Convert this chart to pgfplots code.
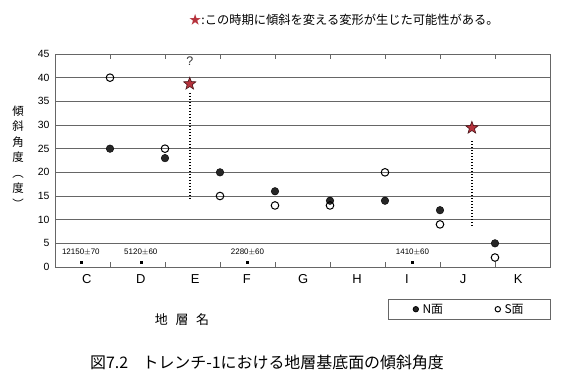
\documentclass[border=0pt]{standalone}
\usepackage{fontspec}
\setmainfont{Liberation Sans}
\newfontfamily\cjk{Noto Sans CJK JP}
\usepackage{pgfplots}
\pgfplotsset{compat=1.18}
\usetikzlibrary{plotmarks}
\definecolor{starred}{HTML}{B5323C}
\definecolor{gridgray}{HTML}{666666}
\pgfdeclareplotmark{fstar}{%
  \pgfpathmoveto{\pgfqpointpolar{90}{\pgfplotmarksize}}%
  \pgfpathlineto{\pgfqpointpolar{126}{0.42\pgfplotmarksize}}%
  \pgfpathlineto{\pgfqpointpolar{162}{\pgfplotmarksize}}%
  \pgfpathlineto{\pgfqpointpolar{198}{0.42\pgfplotmarksize}}%
  \pgfpathlineto{\pgfqpointpolar{234}{\pgfplotmarksize}}%
  \pgfpathlineto{\pgfqpointpolar{270}{0.42\pgfplotmarksize}}%
  \pgfpathlineto{\pgfqpointpolar{306}{\pgfplotmarksize}}%
  \pgfpathlineto{\pgfqpointpolar{342}{0.42\pgfplotmarksize}}%
  \pgfpathlineto{\pgfqpointpolar{18}{\pgfplotmarksize}}%
  \pgfpathlineto{\pgfqpointpolar{54}{0.42\pgfplotmarksize}}%
  \pgfpathclose
  \pgfusepathqfillstroke}
\begin{document}
\begin{tikzpicture}
\path[use as bounding box] (0,0) rectangle (581bp,387bp);
\begin{axis}[
  at={(55bp,120bp)}, anchor=south west,
  scale only axis, width=495bp, height=213bp,
  xmin=0, xmax=9, ymin=0, ymax=45,
  ytick={0,5,...,45},
  xtick={0.58,1.56,2.55,3.49,4.51,5.49,6.4,7.42,8.42},
  xticklabels={C,D,E,F,G,H,I,J,K},
  minor xtick={1,2,3,4,5,6,7,8},
  major tick length=0pt,
  minor tick length=5bp,
  tick align=inside,
  tick style={gridgray, line width=0.7bp},
  ymajorgrids,
  grid style={gridgray, line width=0.8bp},
  axis line style={gridgray, line width=0.8bp},
  /pgf/number format/assume math mode=true,
  yticklabel style={font=\fontsize{10.5}{11}\selectfont, xshift=-2bp},
  xticklabel style={font=\fontsize{13}{14}\selectfont, yshift=-4bp},
  clip=false,
  legend columns=2,
  legend style={at={(1.002,-0.150)}, anchor=north east, draw=gridgray, line width=0.8bp,
    font=\cjk\fontsize{12}{13}\selectfont, inner xsep=25bp, inner ysep=2.5bp,
    /tikz/every odd column/.append style={column sep=2bp},
    /tikz/every even column/.append style={column sep=50bp}},
  legend image code/.code={\draw[mark repeat=2,mark phase=2,mark size=2.7bp,#1] plot coordinates {(0bp,0bp) (4bp,0bp) (8bp,0bp)};},
]
% N face (filled)
\addplot[only marks, mark=*, mark size=3.8bp, mark options={fill=black!85, draw=black}]
  coordinates {(1,25) (2,23) (3,20) (4,16) (5,14) (6,14) (7,12) (8,5)};
\addlegendentry{N面}
% S face (open)
\addplot[only marks, mark=o, mark size=3.8bp, mark options={draw=black, fill=white, line width=1bp}]
  coordinates {(1,40) (2,25) (3,15) (4,13) (5,13) (6,20) (7,9) (8,2)};
\addlegendentry{S面}
% dotted lines
\addplot[forget plot, black, line width=1.8bp, dash pattern=on 1.4bp off 1.6bp]
  coordinates {(2.45,36.8) (2.45,14.4)};
\addplot[forget plot, black, line width=1.8bp, dash pattern=on 1.4bp off 1.6bp]
  coordinates {(7.58,26.6) (7.58,8.5)};
% stars
\addplot[forget plot, only marks, mark=fstar, mark size=6.5bp, mark options={fill=starred, draw=black!60!starred, line width=0.6bp}]
  coordinates {(2.45,38.7) (7.58,29.4)};
% date dots
\addplot[forget plot, only marks, mark=square*, mark size=1bp, black,
  nodes near coords, point meta=explicit symbolic,
  every node near coord/.append style={font=\fontsize{8}{8}\selectfont, anchor=south, yshift=3bp}]
  table[meta=lab] {
x y lab
0.47 1 12150$\pm$70
1.56 1 5120$\pm$60
3.5 1 2280$\pm$60
6.5 1 1410$\pm$60
};
\node[font=\fontsize{12.5}{12}\selectfont, text=black!80] at (axis cs:2.45,43.4) {?};
\end{axis}
% y label
\node[font=\cjk\fontsize{11.5}{15.5}\selectfont, align=center] at (18bp,230bp)
  {傾\\斜\\角\\度\\︵\\度\\︶};
% top note
\node[font=\cjk\fontsize{12.3}{13}\selectfont, anchor=west, inner sep=0pt] at (189bp,367bp)
  {{\color{starred}★}:この時期に傾斜を変える変形が生じた可能性がある。};
% x label
\node[font=\cjk\fontsize{13}{13}\selectfont] at (182bp,67bp) {地\hspace{0.6em}層\hspace{0.6em}名};
% caption
\node[font=\cjk\fontsize{16}{16}\selectfont, anchor=west, inner sep=0pt] at (90bp,25bp)
  {図7.2\hspace{0.9em}トレンチ-1における地層基底面の傾斜角度};
\end{tikzpicture}
\end{document}
